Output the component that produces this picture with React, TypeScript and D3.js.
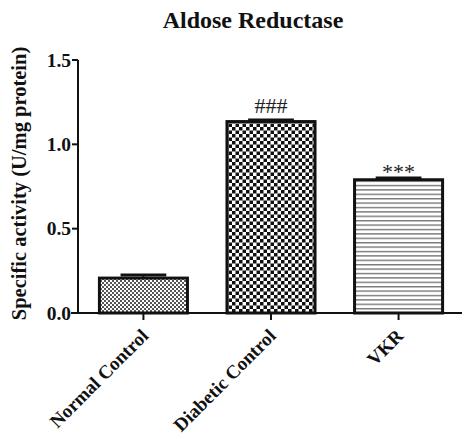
import React from "react";
import * as d3 from "d3";

const categories = ["Normal Control", "Diabetic Control", "VKR"];
const values = [0.207, 1.135, 0.79];
const errors = [0.018, 0.01, 0.01];
const annotations = ["", "###", "***"];
const yTicks = [0.0, 0.5, 1.0, 1.5];
const patterns = ["fine", "checker", "stripes"];

export default function App() {
  const W = 465, H = 439;
  const left = 78, right = 462, top = 60, bottom = 313;
  const y = d3.scaleLinear().domain([0, 1.5]).range([bottom, top]);
  const x = d3.scaleBand().domain(categories).range([79, 463]).paddingInner(0.31).paddingOuter(0.16);
  const font = "'Liberation Serif', 'Times New Roman', serif";
  const bw = x.bandwidth();

  return (
    <svg width={W} height={H} style={{ position: "absolute", left: 0, top: 0, background: "#fff" }}>
      <defs>
        <pattern id="fine" width="4" height="4" patternUnits="userSpaceOnUse">
          <rect width="4" height="4" fill="#fff" />
          <rect width="2" height="2" fill="#555" />
          <rect x="2" y="2" width="2" height="2" fill="#555" />
        </pattern>
        <pattern id="checker" width="7" height="7" patternUnits="userSpaceOnUse" x="1" y="1">
          <rect width="7" height="7" fill="#fff" />
          <rect width="3.5" height="3.5" fill="#111" />
          <rect x="3.5" y="3.5" width="3.5" height="3.5" fill="#111" />
        </pattern>
        <pattern id="stripes" width="8" height="4.4" patternUnits="userSpaceOnUse">
          <rect width="8" height="4.4" fill="#fff" />
          <rect y="0" width="8" height="1.4" fill="#777" />
        </pattern>
      </defs>

      <text x={253} y={28} textAnchor="middle" fontFamily={font} fontWeight="bold" fontSize={24} fill="#111">
        Aldose Reductase
      </text>

      <text
        transform={`translate(21,${(37 + 330) / 2}) rotate(-90)`}
        textAnchor="middle"
        dominantBaseline="middle"
        fontFamily={font}
        fontWeight="bold"
        fontSize={20.5}
        fill="#111"
      >
        Specific activity (U/mg protein)
      </text>

      {categories.map((c, i) => {
        const x0 = x(c)!;
        const cx = x0 + bw / 2;
        const capY = y(values[i] + errors[i]);
        return (
          <g key={c}>
            <rect
              x={x0}
              y={y(values[i])}
              width={bw}
              height={bottom - y(values[i])}
              fill={`url(#${patterns[i]})`}
              stroke="#111"
              strokeWidth={3}
            />
            <line x1={cx} x2={cx} y1={y(values[i])} y2={capY} stroke="#111" strokeWidth={2} />
            <line
              x1={cx - bw * 0.26}
              x2={cx + bw * 0.26}
              y1={capY}
              y2={capY}
              stroke="#111"
              strokeWidth={3}
            />
            {annotations[i] && (
              <text
                x={cx}
                y={annotations[i] === "***" ? capY + 1 : capY - 7}
                textAnchor="middle"
                fontFamily={font}
                fontSize={22}
                fill="#222"
              >
                {annotations[i]}
              </text>
            )}
            <line x1={cx} x2={cx} y1={bottom} y2={bottom + 7} stroke="#111" strokeWidth={2} />
            <text
              transform={`translate(${cx + 6},${bottom + 24}) rotate(-45)`}
              textAnchor="end"
              fontFamily={font}
              fontWeight="bold"
              fontSize={19}
              fill="#111"
            >
              {c}
            </text>
          </g>
        );
      })}

      <line x1={left} x2={left} y1={top} y2={bottom} stroke="#111" strokeWidth={2} />
      <line x1={left - 7} x2={right} y1={bottom} y2={bottom} stroke="#111" strokeWidth={2} />
      {yTicks.map((t) => (
        <g key={t}>
          <line x1={left - 6} x2={left} y1={y(t)} y2={y(t)} stroke="#111" strokeWidth={2} />
          <text
            x={left - 7}
            y={y(t)}
            textAnchor="end"
            dominantBaseline="central"
            fontFamily={font}
            fontWeight="bold"
            fontSize={19.5}
            fill="#111"
          >
            {t.toFixed(1)}
          </text>
        </g>
      ))}
    </svg>
  );
}
